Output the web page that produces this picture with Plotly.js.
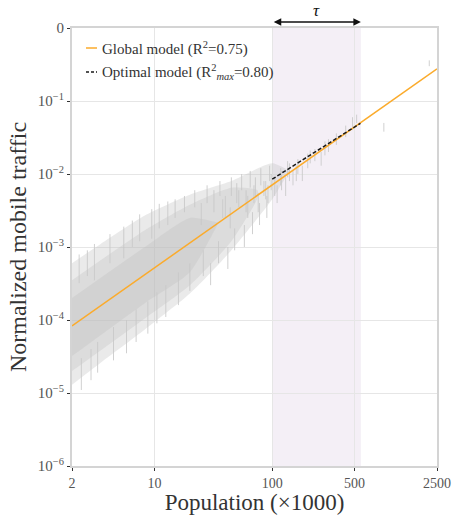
<!DOCTYPE html>
<html><head><meta charset="utf-8">
<script src="https://cdn.plot.ly/plotly-3.0.1.min.js"></script>
<style>html,body{margin:0;padding:0;background:#fff}#c{width:453px;height:515px}</style>
</head><body><div id="c"></div>
<script>
// Global model (fitted power law) end points
const globalX = [2, 2500];
const globalY = [8.3e-5, 0.275];
// Optimal model within tau window
const optX = [100, 560];
const optY = [8.5e-3, 0.0495];
// tau window
const tauRange = [100, 565];

// Data cloud, drawn as overlapping translucent envelopes (wide -> narrow)
const bandAUpX = [2, 3.5, 8.3, 20, 45, 100, 140];
const bandAUpY = [6.0e-4, 1.1e-3, 2.7e-3, 5.2e-3, 8.0e-3, 1.4e-2, 1.1e-2];
const bandALoX = [2, 3.5, 8.3, 20, 45, 100, 140];
const bandALoY = [1.3e-5, 2.6e-5, 7.4e-5, 2.3e-4, 9.0e-4, 4.5e-3, 1.1e-2];
const bandBUpX = [2, 8.3, 20, 45, 75];
const bandBUpY = [3.5e-4, 1.7e-3, 3.8e-3, 6.5e-3, 6.0e-3];
const bandBLoX = [2, 8.3, 20, 45, 75];
const bandBLoY = [2.0e-5, 1.05e-4, 3.0e-4, 1.2e-3, 4.7e-3];
const bandCUpX = [2, 8.3, 20, 35];
const bandCUpY = [2.0e-4, 1.0e-3, 2.5e-3, 2.15e-3];
const bandCLoX = [2, 8.3, 20, 35];
const bandCLoY = [3.2e-5, 1.7e-4, 4.5e-4, 2.15e-3];

// Sparse vertical segments (population, low, high)
const segX  = [15, 18, 22, 25, 28, 32, 36, 40, 45, 50, 55, 60, 65, 72, 80, 88, 95,
               20, 26, 30, 35, 42, 48, 58, 68, 78, 90,
               38, 44, 52, 62, 70, 76, 85, 92, 98,
               105, 110, 118, 120, 130, 135, 140, 150, 160, 165, 180, 200, 210, 230, 260, 280, 300, 350, 420, 480, 520, 885, 2150,
               2.3, 2.7, 3.1, 4.2, 5.5, 6.5, 7.5, 9.5, 11, 13,
               2.4, 2.9, 3.3, 4.5, 5.8, 7, 8.8, 10.5, 12.5, 16];
const segLo = [2.5e-3, 3e-3, 3.5e-3, 2e-3, 4e-3, 3e-3, 5e-3, 2.5e-3, 5e-3, 4e-3, 6e-3, 3e-3, 6.5e-3, 5e-3, 7e-3, 4.5e-3, 8e-3,
               2.5e-4, 4e-4, 3e-4, 6e-4, 5e-4, 9e-4, 1.0e-3, 1.5e-3, 2e-3, 2.5e-3,
               2.5e-3, 1.8e-3, 3.5e-3, 2.5e-3, 4e-3, 3e-3, 5e-3, 4e-3, 6e-3,
               5e-3, 4e-3, 7e-3, 6e-3, 5e-3, 9e-3, 8e-3, 7e-3, 8e-3, 1.0e-2, 8e-3, 1.2e-2, 1.4e-2, 1.5e-2, 1.3e-2, 1.8e-2, 2.0e-2, 2.5e-2, 3.2e-2, 4.0e-2, 5e-2, 3.8e-2, 0.30,
               3.2e-4, 4e-4, 3.5e-4, 6e-4, 7e-4, 1.0e-3, 1.2e-3, 1.3e-3, 1.8e-3, 2.0e-3,
               1.1e-5, 1.5e-5, 1.9e-5, 2.8e-5, 3.5e-5, 5e-5, 6.5e-5, 9e-5, 1.1e-4, 1.6e-4];
const segHi = [4.5e-3, 5e-3, 6e-3, 4e-3, 7e-3, 6e-3, 8e-3, 5e-3, 9e-3, 7.5e-3, 1.0e-2, 6e-3, 1.1e-2, 9e-3, 1.2e-2, 8e-3, 1.3e-2,
               6e-4, 9e-4, 6e-4, 1.2e-3, 1.0e-3, 1.8e-3, 2e-3, 3e-3, 4e-3, 5e-3,
               4.5e-3, 3.5e-3, 6e-3, 5e-3, 7e-3, 5.5e-3, 8e-3, 7e-3, 1.0e-2,
               9e-3, 7e-3, 1.2e-2, 1.1e-2, 9e-3, 1.5e-2, 1.4e-2, 1.1e-2, 1.3e-2, 1.6e-2, 1.3e-2, 1.9e-2, 2.1e-2, 2.2e-2, 2.0e-2, 2.8e-2, 3.0e-2, 3.6e-2, 4.6e-2, 6.0e-2, 6.5e-2, 5.0e-2, 0.36,
               7.9e-4, 9e-4, 1.1e-3, 1.5e-3, 1.9e-3, 2.3e-3, 2.8e-3, 3.3e-3, 3.9e-3, 4.2e-3,
               3e-5, 4e-5, 5e-5, 8e-5, 1.0e-4, 1.4e-4, 1.8e-4, 2.4e-4, 3e-4, 4.5e-4];

const xTickVals = [2, 10, 100, 500, 2500];
const xTickText = ['2', '10', '100', '500', '2500'];
const yTickVals = [1e-6, 1e-5, 1e-4, 1e-3, 1e-2, 1e-1, 1];
const yTickText = ['10<sup>−6</sup>', '10<sup>−5</sup>', '10<sup>−4</sup>', '10<sup>−3</sup>', '10<sup>−2</sup>', '10<sup>−1</sup>', '0'];

const legendLabels = ['Global model (R<sup>2</sup>=0.75)', 'Optimal model (R<sup>2</sup><sub><i>max</i></sub>=0.80)'];

function poly(upX, upY, loX, loY) {
  return {x: upX.concat(loX.slice().reverse()), y: upY.concat(loY.slice().reverse())};
}
const bandA = poly(bandAUpX, bandAUpY, bandALoX, bandALoY);
const bandB = poly(bandBUpX, bandBUpY, bandBLoX, bandBLoY);
const bandC = poly(bandCUpX, bandCUpY, bandCLoX, bandCLoY);
const sx = [], sy = [];
segX.forEach((p, i) => { sx.push(p, p, null); sy.push(segLo[i], segHi[i], null); });

const serif = '"Liberation Serif", "DejaVu Serif", serif';
function band(p, color) {
  return {x: p.x, y: p.y, type: 'scatter', mode: 'lines', fill: 'toself', fillcolor: color,
          line: {width: 0, shape: 'spline', smoothing: 0.6}, showlegend: false, hoverinfo: 'skip'};
}
const cloudFill = 'rgba(192,192,192,0.33)';
const traces = [
  band(bandA, cloudFill),
  band(bandB, cloudFill),
  band(bandC, cloudFill),
  {x: sx, y: sy, type: 'scatter', mode: 'lines', line: {color: 'rgba(200,200,200,0.85)', width: 1},
   showlegend: false, hoverinfo: 'skip', connectgaps: false},
  {x: globalX, y: globalY, type: 'scatter', mode: 'lines', name: legendLabels[0],
   line: {color: '#fbab2c', width: 1.5}, showlegend: false},
  {x: optX, y: optY, type: 'scatter', mode: 'lines', name: legendLabels[1],
   line: {color: '#1a1a1a', width: 1.5, dash: '4px,2px'}, showlegend: false}
];

const axisCommon = {
  type: 'log', showline: true, mirror: true, linecolor: '#d4d4d4', linewidth: 2,
  showgrid: true, gridcolor: '#e6e6e6', gridwidth: 1, zeroline: false,
  ticks: 'outside', ticklen: 3, tickcolor: '#333', tickwidth: 1,
  tickfont: {family: serif, size: 15, color: '#555'}, tickmode: 'array'
};

const px2x = px => (px - 72) / 365;
const px2y = py => (466 - py) / 438;

const layout = {
  width: 453, height: 515,
  margin: {l: 72, r: 16, t: 28, b: 49},
  paper_bgcolor: '#fff', plot_bgcolor: '#fff',
  font: {family: serif, color: '#333'},
  showlegend: false,
  xaxis: Object.assign({}, axisCommon, {
    range: [Math.log10(2), Math.log10(2500)], tickvals: xTickVals, ticktext: xTickText,
    tickfont: {family: serif, size: 14, color: '#555'},
    title: {text: 'Population (×1000)', font: {family: serif, size: 23, color: '#333'}, standoff: 6}
  }),
  yaxis: Object.assign({}, axisCommon, {
    range: [-6, 0], tickvals: yTickVals, ticktext: yTickText,
    title: {text: 'Normalized mobile traffic', font: {family: serif, size: 24, color: '#333'}, standoff: 4}
  }),
  shapes: [
    {type: 'rect', xref: 'x', yref: 'paper', x0: tauRange[0], x1: tauRange[1], y0: 0, y1: 1,
     fillcolor: '#f4eff6', line: {width: 0}, layer: 'below'},
    {type: 'line', xref: 'paper', yref: 'paper', x0: px2x(86), x1: px2x(97), y0: px2y(48), y1: px2y(48),
     line: {color: '#fbab2c', width: 1.5}},
    {type: 'line', xref: 'paper', yref: 'paper', x0: px2x(86), x1: px2x(97), y0: px2y(72), y1: px2y(72),
     line: {color: '#1a1a1a', width: 1.5, dash: '3px,2px'}}
  ],
  annotations: [
    {xref: 'x', yref: 'paper', x: Math.log10(tauRange[1]), y: px2y(22), axref: 'x', ayref: 'pixel',
     ax: Math.log10(tauRange[0]), ay: 0, text: '', showarrow: true, arrowhead: 2, arrowside: 'end+start',
     arrowsize: 1, arrowwidth: 1.5, arrowcolor: '#111'},
    {xref: 'paper', yref: 'paper', x: px2x(316), y: px2y(11), text: '<i>τ</i>', showarrow: false,
     font: {family: serif, size: 17, color: '#111'}, xanchor: 'center', yanchor: 'middle'},
    {xref: 'paper', yref: 'paper', x: px2x(100), y: px2y(48), text: legendLabels[0], showarrow: false,
     font: {family: serif, size: 15, color: '#333'}, xanchor: 'left', yanchor: 'middle'},
    {xref: 'paper', yref: 'paper', x: px2x(100), y: px2y(72), text: legendLabels[1], showarrow: false,
     font: {family: serif, size: 15, color: '#333'}, xanchor: 'left', yanchor: 'middle'}
  ]
};

Plotly.newPlot('c', traces, layout, {staticPlot: true, displayModeBar: false});
</script></body></html>
